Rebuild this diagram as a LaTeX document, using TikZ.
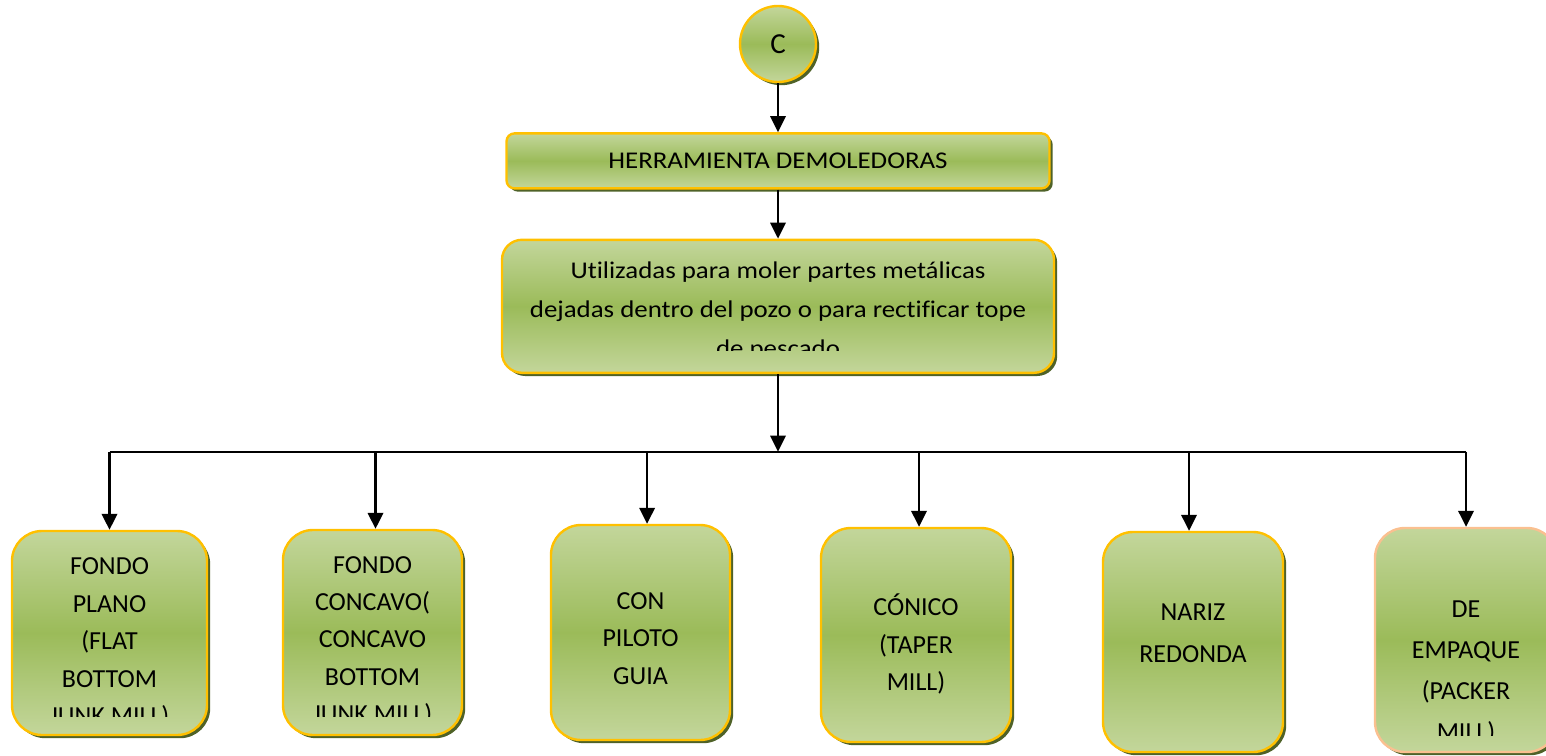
\documentclass[tikz,border=0pt]{standalone}
\usepackage{fontspec}
\setmainfont{Carlito}[Ligatures=NoCommon]
\newfontfamily\widefont{Carlito}[FakeStretch=1.12, Ligatures=NoCommon]
\usetikzlibrary{positioning, shadows, arrows.meta, calc}
\definecolor{leafgreen}{RGB}{195,214,155}
\definecolor{midgreen}{RGB}{155,187,89}
\definecolor{shadowolive}{RGB}{79,98,40}
\definecolor{goldline}{RGB}{255,192,0}
\definecolor{peachline}{RGB}{250,192,144}

\begin{document}
\begin{tikzpicture}[
  node distance=24.5pt,
  greenbox/.style={rectangle, draw=goldline, line width=1.2pt, top color=leafgreen, bottom color=leafgreen, middle color=midgreen, drop shadow={shadow xshift=1.6pt, shadow yshift=-1.6pt, fill=shadowolive, opacity=1}, align=center, inner sep=2pt},
  leaf/.style={greenbox, rounded corners=15pt},
  leaftext/.style={align=center, inner sep=0pt, font=\fontsize{13}{18.7}\selectfont},
  arrow/.style={-{Triangle[width=7.7pt,length=8pt]}, line width=1.1pt, black}
]
\useasboundingbox (0,0) rectangle (773pt,-377.5pt);

% top of the chart
\node[greenbox, circle, minimum size=38pt, inner sep=0pt, font=\fontsize{14.5}{16}\selectfont] (c) at (389pt,-22pt) {C};
\node[greenbox, rounded corners=4pt, minimum width=271.5pt, minimum height=27.5pt, font=\widefont\fontsize{12}{14}\selectfont, below=of c] (herr) {HERRAMIENTA DEMOLEDORAS};
\node[greenbox, rounded corners=10pt, minimum width=276pt, minimum height=66.5pt, below=of herr] (util) {};
\begin{scope}
  \clip (240pt,-110pt) rectangle (540pt,-175pt);
  \node[leaftext, font=\widefont\fontsize{12}{19.5}\selectfont] (util-t) at ($(util)+(0,-2.5pt)$) {Utilizadas para moler partes metálicas\\dejadas dentro del pozo o para rectificar tope\\de pescado};
\end{scope}
\coordinate (hub) at ($(util.south)+(0,-38.8pt)$);

% kinds of mill
\node[leaf, minimum width=97.5pt, minimum height=102pt] (flat) at (54.75pt,-316.5pt) {};
\node[leaf, minimum width=89.5pt, minimum height=102.5pt] (concave) at (186.25pt,-316.25pt) {};
\node[leaf, minimum width=89.5pt, minimum height=107.5pt] (pilot) at (320.25pt,-316.25pt) {};
\node[leaf, minimum width=95pt, minimum height=107pt] (taper) at (458pt,-317.5pt) {};
\node[leaf, minimum width=90pt, minimum height=110pt] (nose) at (596.5pt,-321pt) {};
\node[leaf, draw=peachline, minimum width=91pt, minimum height=112pt] (packer) at (733pt,-320pt) {};

\begin{scope}
  \clip (0,-260pt) rectangle (520pt,-358pt);
  \node[leaftext] (flat-t) at (54.75pt,-321.5pt) {FONDO\\PLANO\\(FLAT\\BOTTOM\\JUNK MILL)};
  \node[leaftext] (concave-t) at (186.25pt,-320.6pt) {FONDO\\CONCAVO(\\CONCAVO\\BOTTOM\\JUNK MILL)};
\end{scope}
\node[leaftext, font=\fontsize{13}{18.75}\selectfont] (pilot-t) at (320.25pt,-319.25pt) {CON\\PILOTO\\GUIA};
\node[leaftext, font=\fontsize{13}{18.9}\selectfont] (taper-t) at (458pt,-322pt) {CÓNICO\\(TAPER\\MILL)};
\node[leaftext, font=\fontsize{13}{21}\selectfont] (nose-t) at (596.5pt,-316.5pt) {NARIZ\\REDONDA};
\begin{scope}
  \clip (650pt,-260pt) rectangle (773pt,-367.5pt);
  \node[leaftext, font=\fontsize{13}{20.5}\selectfont] (packer-t) at (733pt,-336pt) {DE\\EMPAQUE\\(PACKER\\MILL)};
\end{scope}

\draw[arrow] (c) -- (herr);
\draw[arrow] (herr) -- (util);
\draw[arrow] (util) -- (hub);
\draw[line width=1.1pt] (hub -| flat) -- (hub -| packer);
\draw[arrow] (hub -| flat) -- (flat);
\draw[arrow] ([xshift=1.5pt]hub -| concave) -- ([xshift=1.5pt]concave.north);
\draw[arrow] ([xshift=3.3pt]hub -| pilot) -- ([xshift=3.3pt]pilot.north);
\draw[arrow] ([xshift=1.5pt]hub -| taper) -- ([xshift=1.5pt]taper.north);
\draw[arrow] ([xshift=-2pt]hub -| nose) -- ([xshift=-2pt]nose.north);
\draw[arrow] (hub -| packer) -- (packer);
\end{tikzpicture}
\end{document}
